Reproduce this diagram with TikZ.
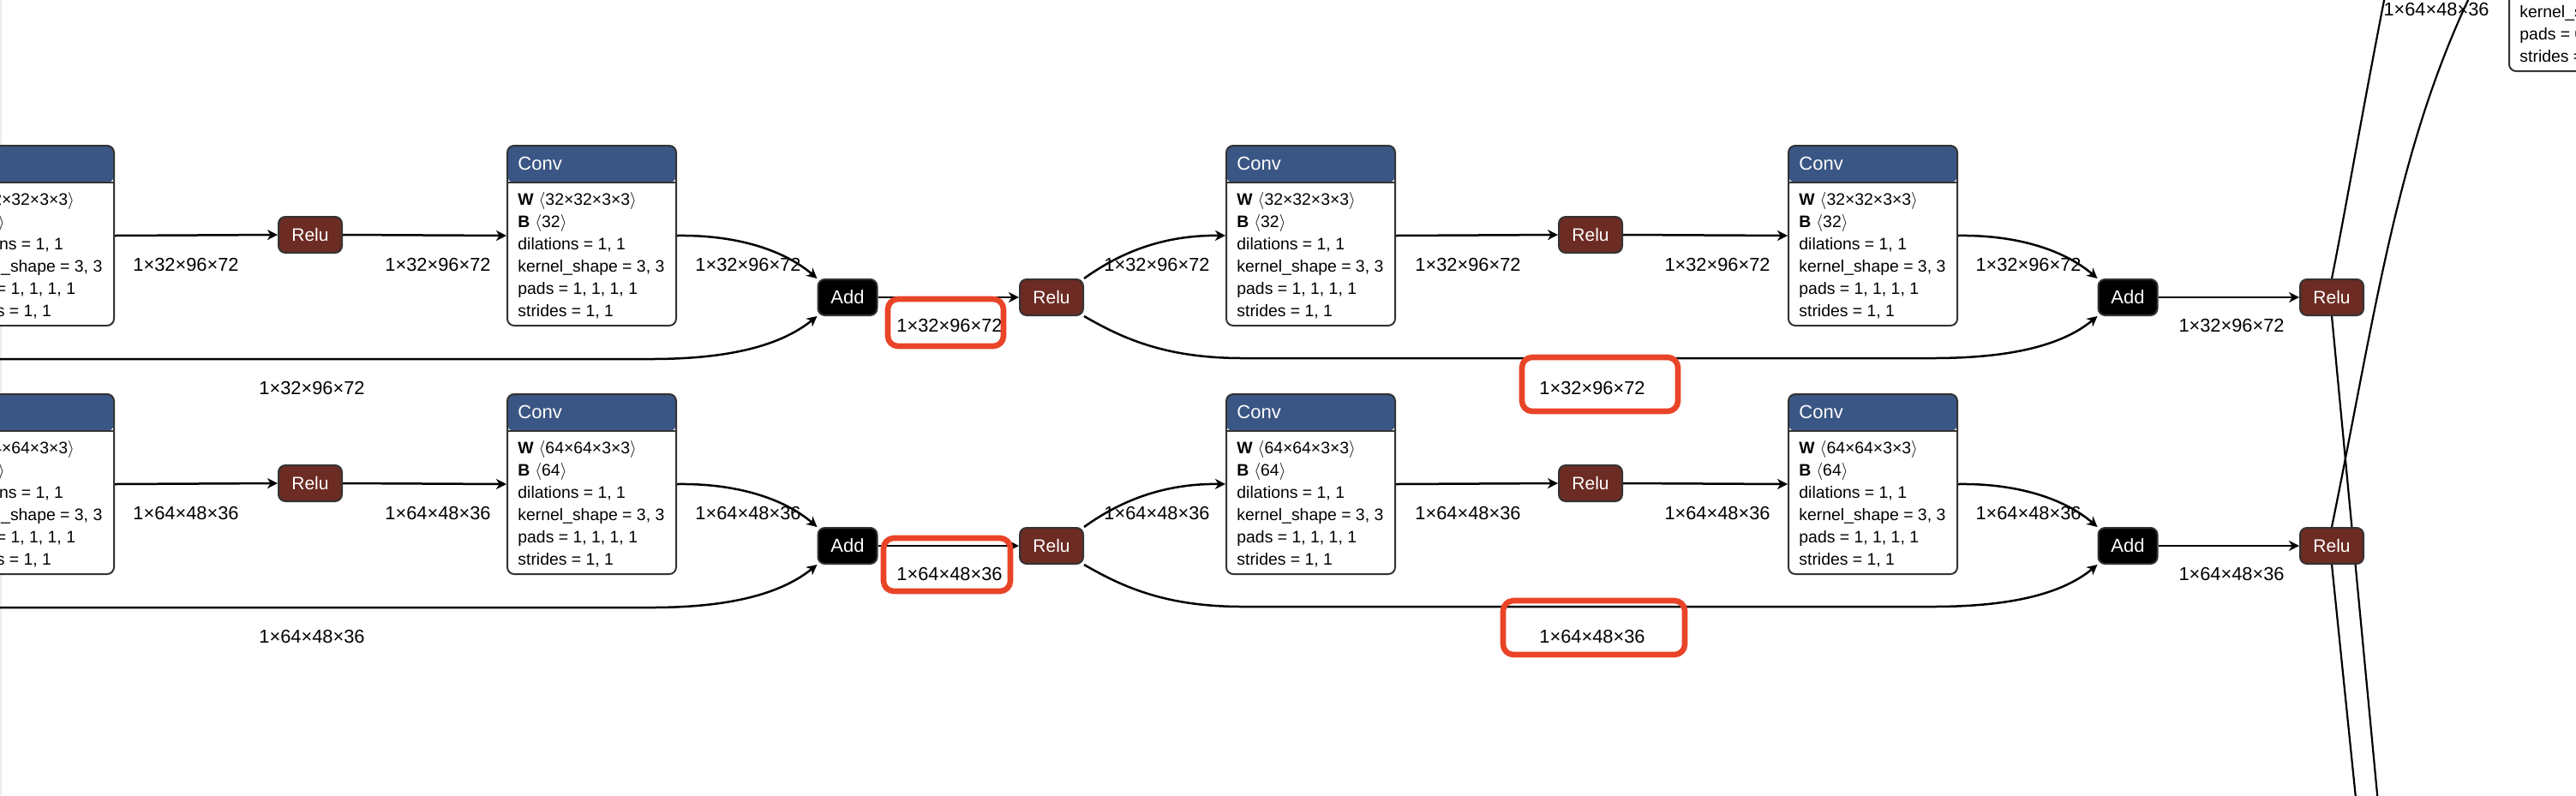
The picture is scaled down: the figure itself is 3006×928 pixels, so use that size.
\documentclass[tikz,border=0pt]{standalone}
\usepackage{fontspec}
\setmainfont{Liberation Sans}
\usetikzlibrary{arrows.meta}

\definecolor{convblue}{RGB}{58,86,132}
\definecolor{relubrown}{RGB}{108,43,35}
\definecolor{boxgray}{RGB}{51,51,51}
\definecolor{markred}{RGB}{233,68,40}

\tikzset{
  conv/.style={draw=boxgray, line width=1pt, fill=white, rounded corners=4pt,
    anchor=north west, inner sep=0pt, minimum width=98.5pt, minimum height=105pt,
    path picture={
      \fill[convblue] (path picture bounding box.north west) rectangle
        ([yshift=-21.5pt]path picture bounding box.north east);
      \draw[boxgray, line width=1pt] ([yshift=-21.5pt]path picture bounding box.north west)
        -- ([yshift=-21.5pt]path picture bounding box.north east);}},
  head/.style={anchor=west, inner sep=0pt, text=white, text height=7.9pt, text depth=0pt,
    font=\fontsize{11}{13}\selectfont},
  attr/.style={anchor=west, inner sep=0pt, text height=7pt, text depth=0pt,
    font=\fontsize{9.7}{12}\selectfont},
  dims/.style={inner sep=0pt, text height=7.8pt, text depth=0pt,
    font=\fontsize{10.9}{13}\selectfont},
  relu/.style={draw=boxgray, line width=1pt, fill=relubrown, text=white, rounded corners=4pt,
    minimum width=37pt, minimum height=21pt, inner sep=0pt, text height=7.5pt, text depth=0pt,
    font=\fontsize{10.5}{12}\selectfont},
  add/.style={relu, fill=black, minimum width=34.5pt, text height=7.9pt,
    font=\fontsize{11}{13}\selectfont},
  edge/.style={line width=1.25pt, -{Stealth[length=6pt, width=6pt, inset=1.8pt]}},
  wire/.style={line width=1.1pt},
  hilite/.style={draw=markred, line width=3.3pt, rounded corners=6pt},
}

% conv box: name, left, top, weight dims, bias dims
\newcommand{\convnode}[5]{%
  \node[conv] (#1) at (#2,#3) {};
  \node[head] (#1-op) at ({#2+13},{#3+22}) {Conv};
  \node[attr] (#1-w) at ({#2+13},{#3+63}) {\textbf{W}\hspace{3pt}$\langle$#4$\rangle$};
  \node[attr] (#1-b) at ({#2+13},{#3+89}) {\textbf{B}\hspace{3pt}$\langle$#5$\rangle$};
  \node[attr] (#1-d) at ({#2+13},{#3+115}) {dilations = 1, 1};
  \node[attr] (#1-k) at ({#2+13},{#3+141}) {kernel\_shape = 3, 3};
  \node[attr] (#1-p) at ({#2+13},{#3+167}) {pads = 1, 1, 1, 1};
  \node[attr] (#1-s) at ({#2+13},{#3+193}) {strides = 1, 1};
}

\begin{document}
\begin{tikzpicture}[x=0.5pt, y=-0.5pt]
  \useasboundingbox (0,0) rectangle (3006,928);
  \clip (0,0) rectangle (3006,928);
  \draw[gray!15, line width=1pt] (1,0) -- (1,928);

  % upper branch
  \convnode{c1a}{-65}{169}{32×32×3×3}{32}
  \node[relu] (r1a) at (362,274) {Relu};
  \convnode{c2a}{591}{169}{32×32×3×3}{32}
  \node[add] (a1a) at (989,347) {Add};
  \node[relu] (r2a) at (1227,347) {Relu};
  \convnode{c3a}{1430}{169}{32×32×3×3}{32}
  \node[relu] (r3a) at (1856,274) {Relu};
  \convnode{c4a}{2086}{169}{32×32×3×3}{32}
  \node[add] (a2a) at (2483,347) {Add};
  \node[relu] (r4a) at (2721,347) {Relu};
  \coordinate (in1a) at (-60,419);

  \draw[edge] (c1a.east) -- (r1a.west);
  \draw[edge] (r1a.east) -- (c2a.west);
  \draw[edge] (c2a.east) .. controls (860,274) and (915,292) .. (a1a.north west);
  \draw[edge] (in1a) -- (760,419) .. controls (860,419) and (915,400) .. (a1a.south west);
  \draw[edge] (a1a.east) -- (r2a.west);
  \draw[edge] (r2a.north east) .. controls (1300,300) and (1350,274) .. (c3a.west);
  \draw[edge] (r2a.south east) .. controls (1310,395) and (1360,418) .. (1450,418)
    -- (2255,418) .. controls (2355,418) and (2410,400) .. (a2a.south west);
  \draw[edge] (c3a.east) -- (r3a.west);
  \draw[edge] (r3a.east) -- (c4a.west);
  \draw[edge] (c4a.east) .. controls (2354,274) and (2409,292) .. (a2a.north west);
  \draw[edge] (a2a.east) -- (r4a.west);

  \node[dims] (s1a) at (217,309) {1×32×96×72};
  \node[dims] (s2a) at (511,309) {1×32×96×72};
  \node[dims] (s3a) at (873,309) {1×32×96×72};
  \node[dims] (s4a) at (1108,380) {1×32×96×72};
  \node[dims] (s5a) at (1350,309) {1×32×96×72};
  \node[dims] (s6a) at (364,453) {1×32×96×72};
  \node[dims] (s7a) at (1713,309) {1×32×96×72};
  \node[dims] (s8a) at (2004,309) {1×32×96×72};
  \node[dims] (s9a) at (2367,309) {1×32×96×72};
  \node[dims] (s10a) at (1858,453) {1×32×96×72};
  \node[dims] (s11a) at (2604,380) {1×32×96×72};

  % crossing wires on the right
  \coordinate (up1) at (2790,-40);
  \coordinate (up2) at (2900,-40);
  \coordinate (dn1) at (2780,990);
  \coordinate (dn2) at (2755,990);
  \draw[wire] (r4a.north) .. controls (2740,230) and (2760,110) .. (up1);
  \draw[wire] (r4a.south) -- (dn1);

  % lower branch
  \convnode{c1b}{-65}{459}{64×64×3×3}{64}
  \node[relu] (r1b) at (362,564) {Relu};
  \convnode{c2b}{591}{459}{64×64×3×3}{64}
  \node[add] (a1b) at (989,637) {Add};
  \node[relu] (r2b) at (1227,637) {Relu};
  \convnode{c3b}{1430}{459}{64×64×3×3}{64}
  \node[relu] (r3b) at (1856,564) {Relu};
  \convnode{c4b}{2086}{459}{64×64×3×3}{64}
  \node[add] (a2b) at (2483,637) {Add};
  \node[relu] (r4b) at (2721,637) {Relu};
  \coordinate (in1b) at (-60,709);

  \draw[edge] (c1b.east) -- (r1b.west);
  \draw[edge] (r1b.east) -- (c2b.west);
  \draw[edge] (c2b.east) .. controls (860,564) and (915,582) .. (a1b.north west);
  \draw[edge] (in1b) -- (760,709) .. controls (860,709) and (915,690) .. (a1b.south west);
  \draw[edge] (a1b.east) -- (r2b.west);
  \draw[edge] (r2b.north east) .. controls (1300,590) and (1350,564) .. (c3b.west);
  \draw[edge] (r2b.south east) .. controls (1310,685) and (1360,708) .. (1450,708)
    -- (2255,708) .. controls (2355,708) and (2410,690) .. (a2b.south west);
  \draw[edge] (c3b.east) -- (r3b.west);
  \draw[edge] (r3b.east) -- (c4b.west);
  \draw[edge] (c4b.east) .. controls (2354,564) and (2409,582) .. (a2b.north west);
  \draw[edge] (a2b.east) -- (r4b.west);

  \node[dims] (s1b) at (217,599) {1×64×48×36};
  \node[dims] (s2b) at (511,599) {1×64×48×36};
  \node[dims] (s3b) at (873,599) {1×64×48×36};
  \node[dims] (s4b) at (1108,670) {1×64×48×36};
  \node[dims] (s5b) at (1350,599) {1×64×48×36};
  \node[dims] (s6b) at (364,743) {1×64×48×36};
  \node[dims] (s7b) at (1713,599) {1×64×48×36};
  \node[dims] (s8b) at (2004,599) {1×64×48×36};
  \node[dims] (s9b) at (2367,599) {1×64×48×36};
  \node[dims] (s10b) at (1858,743) {1×64×48×36};
  \node[dims] (s11b) at (2604,670) {1×64×48×36};

  \draw[wire] (r4b.north) .. controls (2775,350) and (2800,150) .. (up2);
  \draw[wire] (r4b.south) -- (dn2);

  % node cut by the top edge
  \node[conv] (c5) at (2927,-128) {};
  \node[attr] (c5-k) at (2940,13) {kernel\_shape};
  \node[attr] (c5-p) at (2940,39) {pads = 0};
  \node[attr] (c5-s) at (2940,65) {strides = 1};
  \node[dims] (s12) at (2843,11) {1×64×48×36};

  % highlighted shapes
  \draw[hilite] (1036,349) rectangle (1171,404);
  \draw[hilite] (1776,417) rectangle (1958,480);
  \draw[hilite] (1031,628) rectangle (1179,690);
  \draw[hilite] (1754,701) rectangle (1966,764);
\end{tikzpicture}
\end{document}
